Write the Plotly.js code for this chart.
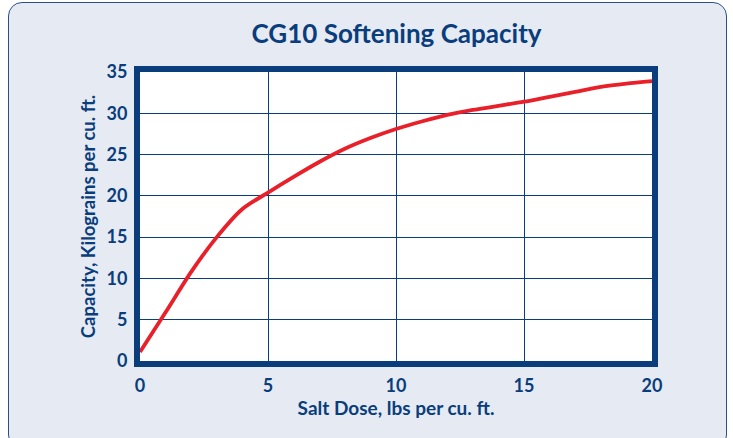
<!DOCTYPE html>
<html>
<head>
<meta charset="utf-8">
<script src="https://cdn.plot.ly/plotly-3.0.1.min.js"></script>
<style>
  html, body { margin: 0; padding: 0; background: #ffffff; width: 733px; height: 438px; overflow: hidden; }
  #card { position: absolute; left: 8px; top: 2px; width: 717px; height: 445px; background: #e6ebf3; border: 1px solid #2a5088; border-radius: 14px; }
  #chart { position: absolute; left: 0; top: 0; width: 733px; height: 438px; }
</style>
</head>
<body>
<div id="card"></div>
<div id="chart"></div>
<script>
const saltDose = [0, 1, 2, 3, 4, 5, 6, 7, 8, 9, 10, 11, 12, 13, 14, 15, 16, 17, 18, 19, 20];
const capacity = [1.1, 5.9, 10.8, 15.0, 18.4, 20.4, 22.3, 24.1, 25.7, 27.0, 28.1, 29.0, 29.8, 30.4, 30.9, 31.4, 32.0, 32.6, 33.2, 33.6, 33.9];
const xTicks = [0, 5, 10, 15, 20];
const yTicks = [0, 5, 10, 15, 20, 25, 30, 35];
const chartTitle = "CG10 Softening Capacity";
const xTitle = "Salt Dose, lbs per cu. ft.";
const yTitle = "Capacity, Kilograins per cu. ft.";

const navy = "#0a3d7c";
const font = "Lato, 'Open Sans', sans-serif";

Plotly.newPlot("chart", [{
  x: saltDose,
  y: capacity,
  type: "scatter",
  mode: "lines",
  line: { color: "#e8202a", width: 3.8, shape: "spline", smoothing: 0.8 },
  hoverinfo: "skip"
}], {
  width: 733,
  height: 438,
  paper_bgcolor: "rgba(0,0,0,0)",
  plot_bgcolor: "#ffffff",
  showlegend: false,
  margin: { l: 140, r: 81, t: 72, b: 77 },
  title: { text: "<b>" + chartTitle + "</b>", font: { family: font, size: 26, color: navy }, x: 0.541, xanchor: "center", y: 0.922, yanchor: "middle" },
  xaxis: {
    range: [0, 20],
    tickvals: xTicks,
    ticktext: xTicks.map(String),
    showgrid: true, gridcolor: navy, gridwidth: 1,
    zeroline: false,
    showline: true, mirror: true, linecolor: navy, linewidth: 6,
    ticks: "", ticklabelstandoff: 3,
    tickfont: { family: font, size: 18, color: navy, weight: "bold" },
    title: { text: "<b>" + xTitle + "</b>", font: { family: font, size: 19, color: navy }, standoff: 6 }
  },
  yaxis: {
    range: [0, 35],
    tickvals: yTicks,
    ticktext: yTicks.map(String),
    showgrid: true, gridcolor: navy, gridwidth: 1,
    zeroline: false,
    showline: true, mirror: true, linecolor: navy, linewidth: 6,
    ticks: "", ticklabelstandoff: 3,
    tickfont: { family: font, size: 18, color: navy, weight: "bold" },
    title: { text: "<b>" + yTitle + "</b>", font: { family: font, size: 18.5, color: navy }, standoff: 8 }
  }
}, { displayModeBar: false, staticPlot: true });
</script>
</body>
</html>
